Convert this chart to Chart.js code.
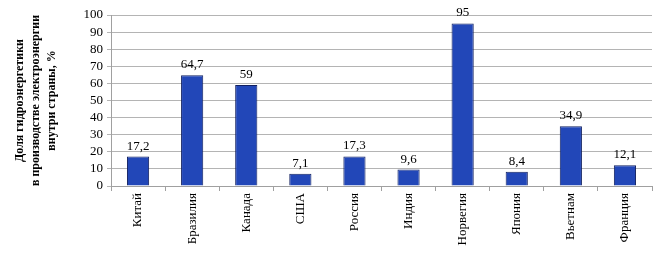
<!DOCTYPE html>
<html>
<head>
<meta charset="utf-8">
<script src="https://cdn.jsdelivr.net/npm/chart.js@4/dist/chart.umd.min.js"></script>
<style>
    html, body { margin: 0; padding: 0; background: #fff; }
    #wrap { width: 659px; height: 259px; }
</style>
</head>
<body>
<div id="wrap"><canvas id="chart"></canvas></div>
<script>
const COUNTRIES = ['Китай', 'Бразилия', 'Канада', 'США', 'Россия', 'Индия', 'Норвегия', 'Япония', 'Вьетнам', 'Франция'];
const HYDRO_SHARE = [17.2, 64.7, 59, 7.1, 17.3, 9.6, 95, 8.4, 34.9, 12.1];
const Y_TITLE = ['Доля гидроэнергетики', 'в производстве электроэнергии', 'внутри страны, %'];

const SERIF = '"Liberation Serif", "Times New Roman", serif';

// value labels above each bar, comma as decimal separator
const valueLabels = {
    id: 'valueLabels',
    afterDatasetsDraw(chart) {
        const ctx = chart.ctx;
        const meta = chart.getDatasetMeta(0);
        ctx.save();
        ctx.font = '13px ' + SERIF;
        ctx.fillStyle = '#000';
        ctx.textAlign = 'center';
        ctx.textBaseline = 'bottom';
        meta.data.forEach((bar, i) => {
            const txt = String(HYDRO_SHARE[i]).replace('.', ',');
            ctx.fillText(txt, bar.x, bar.y - 4);
        });
        ctx.restore();
    },
};

// three-line rotated axis title, each line centred on the plot area
const axisTitle = {
    id: 'axisTitle',
    afterDraw(chart) {
        const ctx = chart.ctx;
        const area = chart.chartArea;
        const cy = (area.top + area.bottom) / 2;
        ctx.save();
        ctx.font = 'bold 12px ' + SERIF;
        ctx.fillStyle = '#000';
        ctx.textAlign = 'center';
        ctx.textBaseline = 'middle';
        Y_TITLE.forEach((line, i) => {
            ctx.save();
            ctx.translate(20 + i * 16, cy);
            ctx.rotate(-Math.PI / 2);
            ctx.fillText(line, 0, 0);
            ctx.restore();
        });
        ctx.restore();
    },
};

new Chart(document.getElementById('chart'), {
    type: 'bar',
    data: {
        labels: COUNTRIES,
        datasets: [{
            data: HYDRO_SHARE,
            backgroundColor: '#2247b8',
            borderColor: '#112060',
            borderWidth: 1,
            categoryPercentage: 1,
            barPercentage: 0.41,
        }],
    },
    options: {
        responsive: true,
        maintainAspectRatio: false,
        animation: false,
        layout: { padding: { top: 15, right: 7, left: 0, bottom: 0 } },
        plugins: { legend: { display: false }, tooltip: { enabled: false } },
        scales: {
            x: {
                afterFit: s => { s.height = 73; },
                grid: { drawOnChartArea: false, color: '#a0a0a0', tickLength: 5, offset: true },
                border: { color: '#a0a0a0' },
                ticks: {
                    minRotation: 90, maxRotation: 90,
                    autoSkip: false,
                    color: '#000',
                    font: { family: SERIF, size: 13 },
                    padding: 2,
                },
            },
            y: {
                min: 0, max: 100,
                afterFit: s => { s.width = 111; },
                grid: { color: '#b4b4b4', tickLength: 4 },
                border: { color: '#a0a0a0' },
                ticks: {
                    stepSize: 10,
                    autoSkip: false,
                    color: '#000',
                    font: { family: SERIF, size: 13 },
                    padding: 4,
                },
            },
        },
    },
    plugins: [valueLabels, axisTitle],
});
</script>
</body>
</html>
